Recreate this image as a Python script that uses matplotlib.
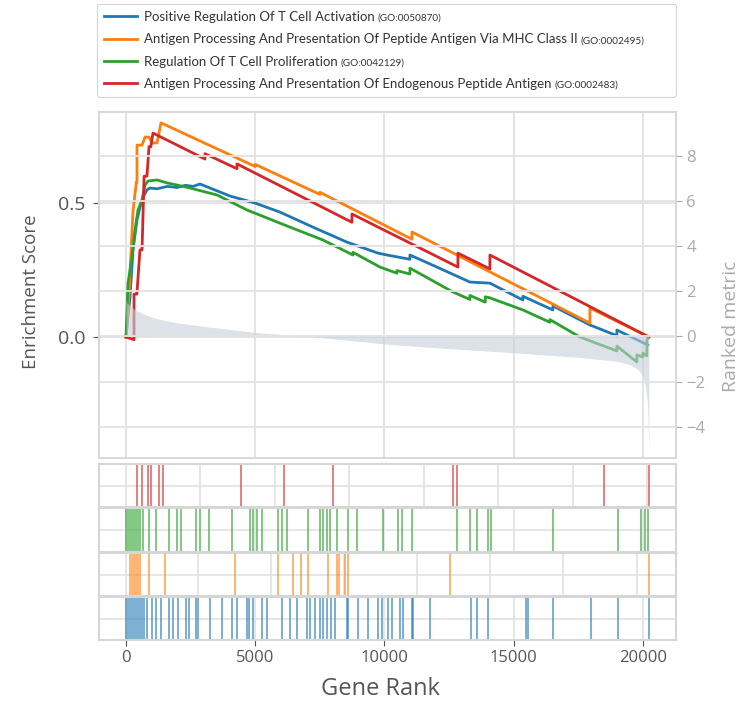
import matplotlib
matplotlib.use('Agg')
import matplotlib.pyplot as plt
from matplotlib import font_manager

# terms shown in the legend (same order as the legend)
terms = [
    'Positive Regulation Of T Cell Activation',
    'Antigen Processing And Presentation Of Peptide Antigen Via MHC Class II',
    'Regulation Of T Cell Proliferation',
    'Antigen Processing And Presentation Of Endogenous Peptide Antigen',
]
go_ids = ['(GO:0050870)', '(GO:0002495)', '(GO:0042129)', '(GO:0002483)']
colors = ['#1f77b4', '#ff7f0e', '#2ca02c', '#d62728']

# running enrichment score
blue_rank = [0, 155, 271, 425, 542, 658, 812, 928, 1199, 1600, 1973, 2300, 2592, 2862,
             3249, 4023, 4990, 5957, 7233, 8548, 9748, 10095, 10985, 10985, 12030, 13306,
             14080, 15356, 15356, 16516, 16516, 17948, 18992, 18992, 20191]
blue_es = [0.0, 0.15, 0.325, 0.437, 0.485, 0.522, 0.549, 0.556, 0.553, 0.562, 0.558, 0.566,
           0.562, 0.571, 0.556, 0.526, 0.500, 0.466, 0.410, 0.354, 0.313, 0.306, 0.290, 0.306,
           0.261, 0.205, 0.201, 0.138, 0.152, 0.101, 0.116, 0.045, 0.005, 0.026, -0.03]

orange_rank = [0, 116, 271, 400, 425, 425, 619, 735, 890, 1006, 1199, 1354, 5000, 5000,
               7500, 7500, 11062, 11062, 17948, 17948, 20230]
orange_es = [0.0, 0.16, 0.47, 0.578, 0.578, 0.716, 0.716, 0.746, 0.746, 0.724, 0.724, 0.799,
             0.636, 0.644, 0.532, 0.540, 0.365, 0.392, 0.052, 0.108, 0.0]

green_rank = [0, 77, 232, 348, 464, 619, 735, 851, 1199, 1586, 1973, 2476, 3520, 4680, 6344,
              7620, 8780, 8780, 9825, 10482, 10482, 10985, 10985, 12648, 13306, 13306, 13900,
              13900, 14080, 15356, 16400, 16400, 17560, 18992, 18992, 19766, 19766, 19998,
              19998, 20153, 20153, 20230]
green_es = [0.0, 0.2, 0.3, 0.4, 0.474, 0.511, 0.567, 0.582, 0.586, 0.575, 0.567, 0.556, 0.53,
            0.474, 0.41, 0.362, 0.306, 0.316, 0.261, 0.238, 0.248, 0.235, 0.257, 0.168, 0.140,
            0.155, 0.130, 0.150, 0.146, 0.101, 0.055, 0.065, 0.0, -0.052, -0.034, -0.093,
            -0.067, -0.075, -0.06, -0.07, -0.011, 0.0]

red_rank = [0, 310, 310, 420, 540, 620, 700, 810, 890, 960, 1044, 3056, 3056, 4293, 4293,
            8742, 8742, 12842, 12842, 14080, 14080, 20230]
red_es = [0.0, -0.01, 0.16, 0.16, 0.325, 0.325, 0.6, 0.6, 0.71, 0.71, 0.761, 0.664, 0.684,
          0.628, 0.646, 0.428, 0.459, 0.261, 0.313, 0.254, 0.306, 0.0]

# ranked metric
metric_rank = [0, 30, 150, 400, 700, 1200, 2000, 3200, 5000, 6500, 8000, 10000, 12000,
               15000, 17500, 19000, 19500, 19800, 20000, 20100, 20180, 20230]
metric_value = [1.7, 1.5, 1.35, 1.15, 0.98, 0.78, 0.6, 0.42, 0.18, 0.05, -0.1, -0.33, -0.5,
                -0.72, -0.92, -1.1, -1.25, -1.45, -1.75, -2.2, -3.0, -5.1]

# hit positions per term
blue_hits = [0, 77, 155, 232, 309, 387, 464, 542, 619, 696, 812, 1006, 1160, 1354, 1663,
             1818, 2011, 2321, 2437, 2708, 2785, 3249, 3713, 4100, 4293, 4680, 4758, 4912,
             5260, 5454, 6034, 6344, 6614, 7001, 7117, 7311, 7504, 7620, 7774, 7929, 8084,
             8548, 8587, 8974, 9361, 9748, 9902, 10134, 10289, 10598, 10714, 11062, 11101,
             11759, 13345, 13577, 14002, 15472, 15550, 16516, 17986, 19031, 20230]
orange_hits = [155, 232, 309, 387, 464, 542, 890, 1509, 4216, 5879, 6460, 6769, 7040, 7814,
               8161, 8239, 8471, 8587, 12532, 20230]
green_hits = [0, 77, 155, 232, 309, 387, 464, 542, 658, 890, 1160, 1663, 1973, 2127, 2708,
              2862, 3210, 4100, 4796, 4912, 5067, 5260, 5879, 6034, 6227, 7040, 7504, 7620,
              7774, 7890, 8161, 8587, 8935, 9941, 10521, 10676, 11062, 12803, 13306, 13577,
              14002, 14118, 16516, 19031, 19920, 20075, 20191]
red_hits = [425, 619, 851, 967, 1276, 1431, 4448, 6112, 8007, 12648, 12803, 18489, 20230]

try:
    font_manager.findfont('Liberation Sans Narrow', fallback_to_default=False)
    legend_font = 'Liberation Sans Narrow'
except ValueError:
    legend_font = 'Lato'
label_font = 'Open Sans'

grid_c = '#e2e2e2'
spine_c = '#d6d6d6'
xlim = (-1045, 21280)
xt = [0, 5000, 10000, 15000, 20000]

fig = plt.figure(figsize=(7.51, 7.07), dpi=100)
L, W = 99 / 751, 577 / 751


def box(top, bottom):
    return [L, 1 - bottom / 707, W, (bottom - top) / 707]


ax = fig.add_axes(box(112, 458))
lines = []
for r, e, c in [(blue_rank, blue_es, colors[0]), (orange_rank, orange_es, colors[1]),
                (green_rank, green_es, colors[2]), (red_rank, red_es, colors[3])]:
    ln, = ax.plot(r, e, color=c, lw=2)
    lines.append(ln)
ax.set_xlim(xlim)
ax.set_ylim(-0.4515, 0.8396)
ax.set_yticks([0.0, 0.5])
ax.set_xticks(xt)
ax.tick_params(axis='x', length=0, labelbottom=False)
ax.tick_params(axis='y', length=4, pad=6, color='#555555', labelsize=14, labelcolor='#555555')
for lab in ax.get_yticklabels():
    lab.set_family(label_font)
ax.grid(True, color=grid_c, lw=1.3)
ax.set_axisbelow(True)
for s in ax.spines.values():
    s.set_color(spine_c)
    s.set_linewidth(1.3)
ax.set_ylabel('Enrichment Score', fontsize=13.5, color='#555555', family=label_font)
ax.yaxis.set_label_coords(-0.103, 0.48)

ax2 = ax.twinx()
ax2.fill_between(metric_rank, metric_value, 0, color='#c5cfda', alpha=0.6, lw=0)
ax2.set_ylim(-5.38, 9.94)
ax2.set_yticks([-4, -2, 0, 2, 4, 6, 8])
ax2.grid(axis='y', color=grid_c, lw=1.3)
ax2.tick_params(axis='y', length=4, color='#aaaaaa', labelsize=12, labelcolor='#aaaaaa')
for lab in ax2.get_yticklabels():
    lab.set_family(label_font)
for s in ax2.spines.values():
    s.set_visible(False)
ax2.set_ylabel('Ranked metric', fontsize=14, color='#aaaaaa', family=label_font)
ax2.yaxis.set_label_coords(1.079, 0.38)

# hit panels, top to bottom
red_grid = [0, 2880, 5760, 8640, 11520, 14400, 17280, 20160]
orange_grid = [0, 2790, 5620, 8450, 11250, 14100, 16900, 19770]
panels = [((464, 507), red_hits, colors[3], red_grid),
          ((508, 552), green_hits, colors[2], xt),
          ((553, 596), orange_hits, colors[1], orange_grid),
          ((597, 640), blue_hits, colors[0], xt)]
hax = []
for (top, bottom), hits, c, g in panels:
    a = fig.add_axes(box(top, bottom))
    a.vlines(hits, 0, 1, color=c, lw=1.1, alpha=0.75)
    a.set_xlim(xlim)
    a.set_ylim(0, 1)
    a.set_yticks([0.5])
    a.set_xticks(g)
    a.tick_params(length=0, labelleft=False, labelbottom=False)
    a.grid(True, color=grid_c, lw=1.2)
    a.set_axisbelow(True)
    for s in a.spines.values():
        s.set_color(spine_c)
        s.set_linewidth(1.5)
    hax.append(a)

bot = hax[-1]
bot.tick_params(axis='x', length=4, color='#555555', labelbottom=True, labelsize=12,
                labelcolor='#555555')
for lab in bot.get_xticklabels():
    lab.set_family(label_font)
bot.set_xlabel('Gene Rank', fontsize=17, color='#555555', family=label_font)
bot.xaxis.set_label_coords(0.487, -0.86)

leg = ax.legend(lines, terms, loc='lower left', bbox_to_anchor=(-0.004, 1.043, 1.004, 0.266),
                mode='expand', borderaxespad=0, prop={'family': legend_font, 'size': 9.5},
                handlelength=2.5, handletextpad=0.5, labelspacing=0.78, borderpad=0.55)
leg.get_frame().set_edgecolor('#cccccc')
leg.get_frame().set_linewidth(0.8)
for t in leg.get_texts():
    t.set_color('#333333')

fig.canvas.draw()
rend = fig.canvas.get_renderer()
fw, fh = fig.bbox.width, fig.bbox.height
for t, gid in zip(leg.get_texts(), go_ids):
    bb = t.get_window_extent(rend)
    x0, y0 = t.get_transform().transform(t.get_position())
    fig.text((bb.x1 + 3) / fw, y0 / fh, gid, fontsize=7.2, family=legend_font,
             color='#333333', va='baseline', ha='left')

fig.savefig('out.png', dpi=100)
